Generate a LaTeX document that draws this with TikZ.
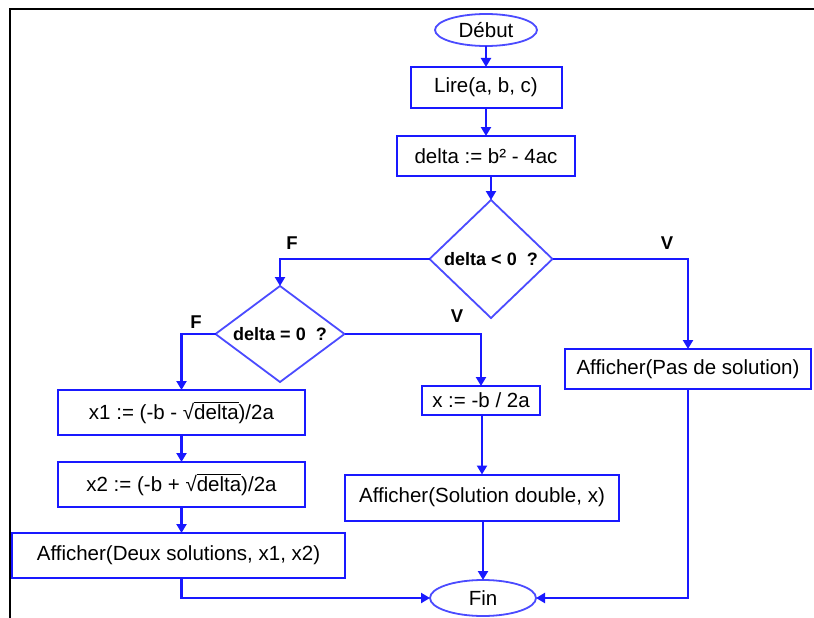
\documentclass[tikz,border=0pt]{standalone}
\usepackage{fontspec}
\setmainfont{Liberation Sans}
\usetikzlibrary{shapes.geometric,arrows.meta}
\definecolor{mainblue}{RGB}{25,25,255}
\definecolor{lightblue}{RGB}{75,75,255}
\newcommand\ovlx[1]{\vbox{\hrule height 1pt\kern 1.5pt\hbox{#1}}}
\tikzset{
  box/.style={draw=mainblue, line width=2pt, rectangle, inner sep=0pt, outer sep=0pt, font=\fontsize{20.5}{24}\selectfont},
  term/.style={draw=lightblue, line width=1.8pt, ellipse, inner sep=0pt, outer sep=0pt, font=\fontsize{20.5}{24}\selectfont},
  cond/.style={draw=lightblue, line width=1.8pt, diamond, inner sep=0pt, outer sep=0pt, font=\bfseries\fontsize{18}{21}\selectfont},
  conn/.style={draw=mainblue, line width=2.6pt, -{Triangle[width=10pt,length=9pt]}},
  lab/.style={font=\bfseries\fontsize{18.5}{21}\selectfont, inner sep=0pt}
}
\begin{document}
\begin{tikzpicture}[x=1pt,y=-1pt]
\useasboundingbox (0,0) rectangle (814,618);
\fill[white] (0,0) rectangle (814,618);
\draw[line width=2.6pt] (10,618) -- (10,9) -- (814,9);

\node[term, minimum width=102pt, minimum height=32pt] (debut) at (486,30) {Début};
\node[box, minimum width=151pt, minimum height=41pt] (lire) at (486,87.5) {Lire(a, b, c)};
\node[box, minimum width=178pt, minimum height=40pt] (delta) at (486,156) {delta := b² - 4ac};
\node[cond, aspect=1.04, minimum width=123pt, minimum height=118pt] (d1) at (491,259) {delta < 0~ ?};
\node[cond, aspect=1.34, minimum width=129pt, minimum height=96pt] (d2) at (280,334) {delta = 0~ ?};
\node[box, minimum width=247pt, minimum height=45pt] (x1) at (181.5,412.5) {x1 := (-b - √\ovlx{delta})/2a};
\node[box, minimum width=247pt, minimum height=45pt] (x2) at (181.5,484.5) {x2 := (-b + √\ovlx{delta})/2a};
\node[box, minimum width=333pt, minimum height=45pt] (deux) at (178.5,555.5) {Afficher(Deux solutions, x1, x2)};
\node[box, minimum width=118pt, minimum height=29pt] (xb) at (481,400.5) {x := -b / 2a};
\node[box, minimum width=274pt, minimum height=46pt] (dbl) at (482,497.5) {Afficher(Solution double, x)};
\node[box, minimum width=246pt, minimum height=40pt] (pas) at (688,369) {Afficher(Pas de solution)};
\node[term, minimum width=106pt, minimum height=36pt] (fin) at (483,598) {Fin};

\node[lab] (f1) at (292,243) {F};
\node[lab] (v1) at (667,243) {V};
\node[lab] (f2) at (196,322) {F};
\node[lab] (v2) at (457,316) {V};

\draw[conn] (debut) -- (lire);
\draw[conn] (lire) -- (delta);
\draw[conn] (d1.north |- delta.south) -- (d1.north);
\draw[conn] (d1.west) -| (d2.north);
\draw[conn] (d1.east) -| (pas.north);
\draw[conn] (d2.west) -| (x1.north);
\draw[conn] (d2.east) -| (xb.north);
\draw[conn] (x1) -- (x2);
\draw[conn] (x2.south) -- (x2.south |- deux.north);
\draw[conn] (x2.south |- deux.south) |- (fin.west);
\draw[conn] (xb.south -| dbl.north) -- (dbl.north);
\draw[conn] (fin.north |- dbl.south) -- (fin.north);
\draw[conn] (pas.south) |- (fin.east);
\end{tikzpicture}
\end{document}
